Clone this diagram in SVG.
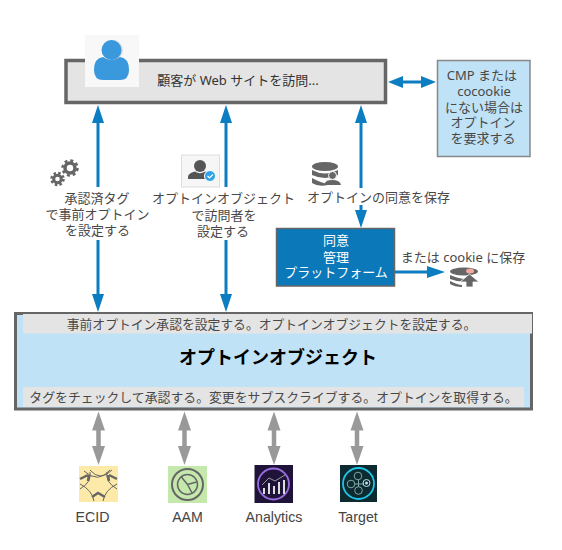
<svg xmlns="http://www.w3.org/2000/svg" width="562" height="550" viewBox="0 0 562 550">
<style>
text{font-family:"Noto Sans","Noto Sans CJK JP",sans-serif;font-size:13px;fill:#484848;text-anchor:middle}
.lat{font-family:"Liberation Sans",sans-serif;font-size:14.200px;fill:#444}
.w{fill:#fff}
.band{font-size:12.800px}
.title{font-size:18px;font-weight:700;fill:#000}
.b{stroke:#0b7dc0;stroke-width:3;fill:none}
.g{stroke:#999;stroke-width:4.500;fill:none}
.db{fill:#666}
</style>
<defs>
<path id="hb" d="M0 0L-6 18H6Z" fill="#0b7dc0"/>
<path id="hg" d="M0 0L-6.500 19H6.500Z" fill="#999"/>
</defs>
<g id="connectors">
<path class="b" d="M98 120V187M98 240V298M226 120V187M226 240V298M361 120V188M361 205V213M400 82H424M395 272H432"/>
<use href="#hb" x="98" y="105"/>
<use href="#hb" x="226" y="105"/>
<use href="#hb" x="361" y="105"/>
<use href="#hb" transform="translate(98 312) rotate(180)"/>
<use href="#hb" transform="translate(226 312) rotate(180)"/>
<use href="#hb" transform="translate(361 228) rotate(180)"/>
<path fill="#0b7dc0" d="M388 82L403 76V88ZM436 82L421 76V88ZM445 272L427 266V278Z"/>
<path class="g" d="M98.500 425V450M184.500 425V450M274 425V450M357 425V450"/>
<use href="#hg" x="98.500" y="411.500"/>
<use href="#hg" x="184.500" y="411.500"/>
<use href="#hg" x="274" y="411.500"/>
<use href="#hg" x="357" y="411.500"/>
<use href="#hg" transform="translate(98.500 465) rotate(180)"/>
<use href="#hg" transform="translate(184.500 465) rotate(180)"/>
<use href="#hg" transform="translate(274 465) rotate(180)"/>
<use href="#hg" transform="translate(357 465) rotate(180)"/>
</g>
<g id="visit">
<rect x="66" y="60.500" width="319.500" height="42" fill="#e4e4e4" stroke="#666" stroke-width="3.500"/>
<rect x="85" y="35" width="54" height="52" fill="#f8f8f8"/>
<circle cx="113" cy="50" r="10" fill="#ddd"/>
<circle cx="111.500" cy="50" r="10" fill="#3a98dc"/>
<path d="M94 70Q94 58 103 57Q111 63 120 57Q129 58 129 70Q129 80 120 80H103Q94 80 94 70Z" fill="#3a98dc"/>
<text x="238" y="85" style="fill:#333">顧客が Web サイトを訪問...</text>
</g>
<g id="cmp">
<rect x="437.500" y="60.500" width="92.500" height="96" fill="#bfe2f6" stroke="#888" stroke-width="1.500"/>
<text x="482" y="80">CMP または</text>
<text x="484" y="96">cocookie</text>
<text x="484" y="112">にない場合は</text>
<text x="483" y="127">オプトイン</text>
<text x="483" y="143">を要求する</text>
</g>
<g id="tag">
<circle cx="70" cy="168" r="5" fill="none" stroke="#666" stroke-width="3.500"/>
<circle cx="70" cy="168" r="7.500" fill="none" stroke="#666" stroke-width="2.500" stroke-dasharray="3 2.900"/>
<circle cx="57.500" cy="179" r="3.800" fill="none" stroke="#666" stroke-width="3"/>
<circle cx="57.500" cy="179" r="6" fill="none" stroke="#666" stroke-width="2.500" stroke-dasharray="2.500 2.210"/>
<text x="97" y="203">承認済タグ</text>
<text x="97.500" y="219">で事前オプトイン</text>
<text x="97.500" y="235">を設定する</text>
</g>
<g id="object-label">
<rect x="181.500" y="155" width="38" height="32" fill="#f6f6f6" stroke="#ddd"/>
<circle cx="200" cy="166" r="6" fill="#555"/>
<path d="M188 179V177Q188 173 195 171.500Q200 175 205 171.500Q210 173 211 177V179Z" fill="#555"/>
<circle cx="210" cy="176" r="5.500" fill="#2ea3e8" stroke="#fff"/>
<path d="M207.500 176L209.500 178L212.800 174.500" fill="none" stroke="#fff" stroke-width="1.200"/>
<text x="223.500" y="203">オプトインオブジェクト</text>
<text x="224" y="220">で訪問者を</text>
<text x="223" y="236">設定する</text>
</g>
<g id="save-label">
<ellipse cx="325" cy="166.500" rx="13" ry="4.500" class="db"/>
<path class="db" d="M312 170Q325 177 338 170V175Q325 181 312 175ZM312 178Q325 185 328 183V185Q318 187 312 183Z"/>
<circle cx="332.500" cy="175.500" r="4" fill="#666" stroke="#fff"/>
<path class="db" d="M325 185V183Q326 180 332 180Q340 180 341 185Z"/>
<text x="378.500" y="202">オプトインの同意を保存</text>
</g>
<g id="platform">
<rect x="276.500" y="228.500" width="118" height="57.500" fill="#0b78b9" stroke="#666" stroke-width="1.500"/>
<text class="w" x="336" y="245">同意</text>
<text class="w" x="336" y="262">管理</text>
<text class="w" x="336" y="277">プラットフォーム</text>
</g>
<g id="cookie">
<text x="463" y="262">または cookie に保存</text>
<ellipse cx="464" cy="271.500" rx="14" ry="4" class="db"/>
<ellipse cx="470" cy="271" rx="4" ry="2.500" fill="#f3a8a0"/>
<path class="db" d="M450 275Q464 281 472 278V281Q460 283 450 279ZM450 281Q458 285 462 285V287Q455 287 450 284Z"/>
<path class="db" d="M469.500 274L479 282H473V287H466V282H460Z" stroke="#fff" stroke-width=".8"/>
</g>
<g id="optin">
<rect x="15.500" y="313.500" width="516" height="95.500" fill="#bfe2f6" stroke="#666" stroke-width="3"/>
<rect x="23" y="314" width="509" height="19.500" fill="#e4e4e4"/>
<rect x="23" y="387" width="501" height="20" fill="#e4e4e4"/>
<text class="band" x="271.500" y="329">事前オプトイン承認を設定する。オプトインオブジェクトを設定する。</text>
<text class="title" x="278" y="364">オプトインオブジェクト</text>
<text class="band" x="273.500" y="402" style="font-size:12.870px">タグをチェックして承認する。変更をサブスクライブする。オプトインを取得する。</text>
</g>
<g id="ecid">
<rect x="79" y="466" width="39" height="36" fill="#fde9a8"/>
<g fill="none" stroke="#666">
<path d="M84 471Q98 484 110 470M90 470Q100 482 112 470M80 489Q92 482 90 472M117 489Q105 482 107 472M80 484Q92 490 94 501M117 484Q105 490 103 501"/>
<path stroke-width="2.500" d="M80 479L88 475M117 479L109 475M92 497L98 493L105 497M89 475L88 481M108 475L109 481"/>
</g>
<text class="lat" x="92.500" y="522">ECID</text>
</g>
<g id="aam">
<rect x="168" y="466" width="39" height="37" fill="#c5e8ac"/>
<g fill="none" stroke="#666" stroke-width="1.500">
<circle cx="187.500" cy="484.500" r="15.500" stroke-width="2"/>
<circle cx="187.500" cy="484.500" r="10"/>
<path d="M187.500 484.500L181 476.500M187.500 484.500L196.500 482M187.500 484.500L192 493"/>
</g>
<text class="lat" x="187.500" y="522">AAM</text>
</g>
<g id="analytics">
<rect x="254.500" y="465" width="38.500" height="38" fill="#1f1339"/>
<circle cx="273.500" cy="484" r="15.500" fill="none" stroke="#9a6ee0" stroke-width="1.800"/>
<path fill="none" stroke="#ddd" stroke-width="2" d="M264 494V488M269 494V483M274 494V486M279 494V482M284 494V480"/>
<path fill="none" stroke="#bbb" stroke-width=".8" d="M262 485L269 478L275 481L285 475"/>
<text class="lat" x="274" y="522">Analytics</text>
</g>
<g id="target">
<rect x="340" y="465" width="37" height="37" fill="#0d2a30"/>
<circle cx="358.500" cy="483.500" r="15.500" fill="none" stroke="#1fc4e8" stroke-width="1.800"/>
<g fill="none" stroke="#7fa8a8">
<circle cx="358" cy="476" r="3.800"/>
<circle cx="351" cy="484" r="3.800"/>
<circle cx="358.500" cy="490.500" r="3.800"/>
<path d="M355 484H364M358.500 480V487"/>
</g>
<circle cx="366.500" cy="483" r="3.500" fill="none" stroke="#bfe2ee"/>
<circle cx="366.500" cy="483" r="1.500" fill="#bfe2ee"/>
<text class="lat" x="358" y="522">Target</text>
</g>
</svg>
